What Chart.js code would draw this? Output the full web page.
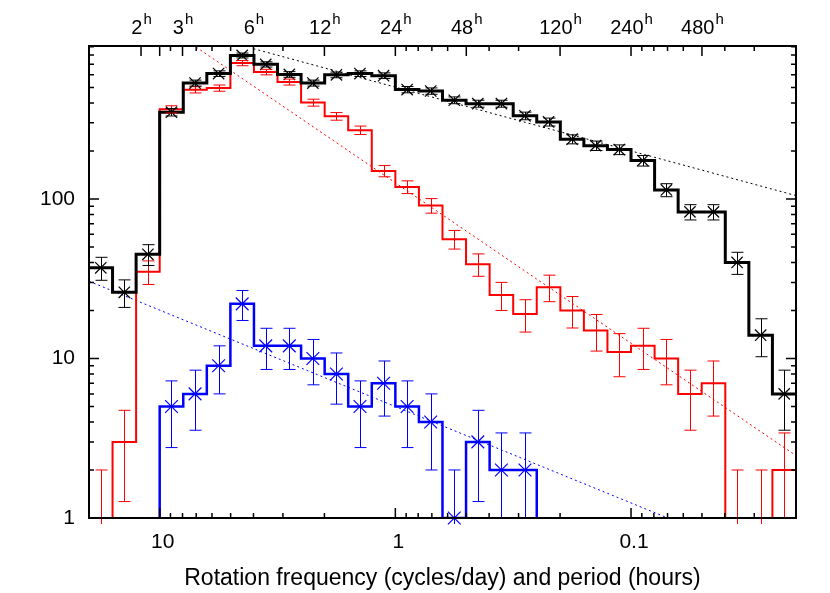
<!DOCTYPE html>
<html>
<head>
<meta charset="utf-8">
<script src="https://cdn.jsdelivr.net/npm/chart.js@4.4.1/dist/chart.umd.min.js"></script>
<style>
  html, body { margin: 0; padding: 0; background: #fff; }
</style>
</head>
<body>
<canvas id="rotChart" width="830" height="593"></canvas>
<script>
// histogram bins, 0.1 dex wide, in cycles/day (high frequency on the left)
var binEdges = [19.95, 15.85, 12.59, 10.0, 7.943, 6.310, 5.012, 3.981, 3.162, 2.512, 1.995,
                1.585, 1.259, 1.0, 0.7943, 0.6310, 0.5012, 0.3981, 0.3162, 0.2512, 0.1995,
                0.1585, 0.1259, 0.1, 0.07943, 0.06310, 0.05012, 0.03981, 0.03162, 0.02512, 0.01995];
var binCenters = [17.78, 14.13, 11.22, 8.913, 7.079, 5.623, 4.467, 3.548, 2.818, 2.239,
                  1.778, 1.413, 1.122, 0.8913, 0.7079, 0.5623, 0.4467, 0.3548, 0.2818, 0.2239,
                  0.1778, 0.1413, 0.1122, 0.08913, 0.07079, 0.05623, 0.04467, 0.03548, 0.02818, 0.02239];

// counts per bin
var allCounts  = [37, 26, 45, 350, 533, 611, 794, 698, 604, 533, 600, 611, 593, 485, 475,
                  416, 396, 396, 332, 304, 237, 216, 204, 174, 114, 83, 83, 40, 14, 6];
var redCounts  = [1, 3, 35, 365, 484, 496, 711, 625, 541, 402, 330, 270, 150, 119, 91,
                  56, 39, 25, 19, 28, 20, 15, 11, 12, 10, 6, 7, 1, 1, 2];
var blueCounts = [0, 0, 0, 5, 6, 9, 22, 12, 12, 10, 8, 5, 7, 5, 4,
                  1, 3, 2, 2, 0, 0, 0, 0, 0, 0, 0, 0, 0, 0, 0];

// power-law fits, end points [freq, count]
var fitAll  = [[4.0, 875], [0.01995, 105]];
var fitRed  = [[7.0, 895], [0.01995, 2.46]];
var fitBlue = [[19.95, 30.5], [0.0698, 1]];

var xTicks = [10, 1, 0.1];
var yTicks = [1, 10, 100];
var periodFreqs  = [12, 8, 4, 2, 1, 0.5, 0.2, 0.1, 0.05];
var periodLabels = ['2', '3', '6', '12', '24', '48', '120', '240', '480'];

var FONT = 'Liberation Sans, Arial, sans-serif';

function steps(vals) {
  var pts = [];
  vals.forEach(function (v, i) {
    var y = v > 0 ? v : 0.3; // empty bins fall below the axis
    pts.push({ x: binEdges[i], y: y }, { x: binEdges[i + 1], y: y });
  });
  return pts;
}

function markers(vals) {
  var pts = [];
  vals.forEach(function (v, i) {
    if (v > 0) pts.push({ x: binCenters[i], y: v });
  });
  return pts;
}

function fitLine(f) {
  return f.map(function (p) { return { x: p[0], y: p[1] }; });
}

// poisson error bars drawn with the chart scales
var errorBars = {
  id: 'errorBars',
  afterDatasetsDraw: function (chart) {
    var xs = chart.scales.x, ys = chart.scales.y, ctx = chart.ctx, a = chart.chartArea;
    var sets = [[redCounts, '#ff0000'], [allCounts, '#000000'], [blueCounts, '#0000ff']];
    ctx.save();
    ctx.lineWidth = 1;
    sets.forEach(function (s) {
      ctx.strokeStyle = s[1];
      s[0].forEach(function (v, i) {
        if (v <= 0) return;
        var e = Math.sqrt(v);
        var x = Math.round(xs.getPixelForValue(binCenters[i])) + 0.5;
        var top = ys.getPixelForValue(v + e);
        var lo = v - e;
        var bot = lo > 0 ? Math.min(ys.getPixelForValue(lo), a.bottom) : a.bottom + 6;
        ctx.beginPath();
        ctx.moveTo(x, top);
        ctx.lineTo(x, bot);
        ctx.moveTo(x - 6, top);
        ctx.lineTo(x + 6, top);
        if (lo > 0 && ys.getPixelForValue(lo) < a.bottom) {
          ctx.moveTo(x - 6, bot);
          ctx.lineTo(x + 6, bot);
        }
        ctx.stroke();
      });
    });
    ctx.restore();
  }
};

// frame, inward ticks on all sides, period labels on top
var frame = {
  id: 'frame',
  afterDraw: function (chart) {
    var xs = chart.scales.x, ys = chart.scales.y, ctx = chart.ctx, a = chart.chartArea;
    ctx.save();
    ctx.strokeStyle = '#000';
    ctx.lineWidth = 1.5;
    ctx.beginPath();
    for (var n = -2; n <= 1; n++) {
      for (var k = 1; k <= 9; k++) {
        var f = k * Math.pow(10, n);
        if (f < xs.min || f > xs.max) continue;
        var px = xs.getPixelForValue(f);
        var len = k === 1 ? 10 : 5;
        ctx.moveTo(px, a.bottom); ctx.lineTo(px, a.bottom - len);
        var tlen = (k === 1 || periodFreqs.indexOf(+f.toPrecision(3)) >= 0) ? 10 : 5;
        ctx.moveTo(px, a.top); ctx.lineTo(px, a.top + tlen);
      }
    }
    var p12 = xs.getPixelForValue(12);
    ctx.moveTo(p12, a.top); ctx.lineTo(p12, a.top + 10);
    for (var m = 0; m <= 2; m++) {
      for (var j = 1; j <= 9; j++) {
        var v = j * Math.pow(10, m);
        if (v < ys.min || v > ys.max) continue;
        var py = ys.getPixelForValue(v);
        var l = j === 1 ? 10 : 5;
        ctx.moveTo(a.left, py); ctx.lineTo(a.left + l, py);
        ctx.moveTo(a.right, py); ctx.lineTo(a.right - l, py);
      }
    }
    ctx.stroke();
    ctx.lineWidth = 2;
    ctx.strokeRect(a.left, a.top, a.right - a.left, a.bottom - a.top);

    ctx.fillStyle = '#000';
    ctx.textBaseline = 'alphabetic';
    periodFreqs.forEach(function (f, i) {
      ctx.font = '20px ' + FONT;
      var w1 = ctx.measureText(periodLabels[i]).width;
      ctx.font = '15px ' + FONT;
      var w2 = ctx.measureText('h').width;
      var x0 = xs.getPixelForValue(f) - (w1 + w2) / 2;
      ctx.font = '20px ' + FONT;
      ctx.fillText(periodLabels[i], x0, 34);
      ctx.font = '15px ' + FONT;
      ctx.fillText('h', x0 + w1 + 1, 24);
    });
    ctx.restore();
  }
};

new Chart(document.getElementById('rotChart'), {
  type: 'scatter',
  data: {
    datasets: [
      { data: markers(allCounts), pointStyle: 'crossRot', pointRadius: 8, borderColor: '#000',
        backgroundColor: '#000', pointBorderWidth: 1.2, clip: false, order: 1 },
      { data: markers(blueCounts), pointStyle: 'crossRot', pointRadius: 9, borderColor: '#0000ff',
        backgroundColor: '#0000ff', pointBorderWidth: 1.2, clip: false, order: 1 },
      { data: steps(allCounts), showLine: true, borderColor: '#000', borderWidth: 3,
        pointRadius: 0, order: 2 },
      { data: steps(redCounts), showLine: true, borderColor: '#ff0000', borderWidth: 2,
        pointRadius: 0, order: 3 },
      { data: steps(blueCounts), showLine: true, borderColor: '#0000ff', borderWidth: 2.5,
        pointRadius: 0, order: 3 },
      { data: fitLine(fitAll), showLine: true, borderColor: '#000', borderWidth: 1,
        borderDash: [2, 3], pointRadius: 0, order: 4 },
      { data: fitLine(fitRed), showLine: true, borderColor: '#ff0000', borderWidth: 1,
        borderDash: [2, 3], pointRadius: 0, order: 4 },
      { data: fitLine(fitBlue), showLine: true, borderColor: '#0000ff', borderWidth: 1,
        borderDash: [2, 3], pointRadius: 0, order: 4 }
    ]
  },
  options: {
    responsive: false,
    animation: false,
    devicePixelRatio: 1,
    layout: { padding: { top: 46, right: 34, left: 0, bottom: 0 } },
    plugins: { legend: { display: false }, tooltip: { enabled: false } },
    scales: {
      x: {
        type: 'logarithmic',
        reverse: true,
        min: 0.01995,
        max: 19.95,
        grid: { display: false, drawTicks: false },
        border: { display: false },
        afterBuildTicks: function (s) { s.ticks = xTicks.map(function (v) { return { value: v }; }); },
        afterFit: function (s) { s.height = 75; },
        ticks: {
          autoSkip: false, maxRotation: 0, padding: 12, labelOffset: 3, color: '#000',
          font: { family: FONT, size: 21 },
          callback: function (v) { return String(v); }
        },
        title: {
          display: true,
          text: 'Rotation frequency (cycles/day) and period (hours)',
          color: '#000',
          font: { family: FONT, size: 23 },
          padding: { top: 0, bottom: 1 }
        }
      },
      y: {
        type: 'logarithmic',
        min: 1,
        max: 910,
        grid: { display: false, drawTicks: false },
        border: { display: false },
        afterBuildTicks: function (s) { s.ticks = yTicks.map(function (v) { return { value: v }; }); },
        afterFit: function (s) { s.width = 89; },
        ticks: {
          padding: 14, color: '#000',
          font: { family: FONT, size: 21 },
          callback: function (v) { return String(v); }
        }
      }
    }
  },
  plugins: [errorBars, frame]
});
</script>
</body>
</html>
